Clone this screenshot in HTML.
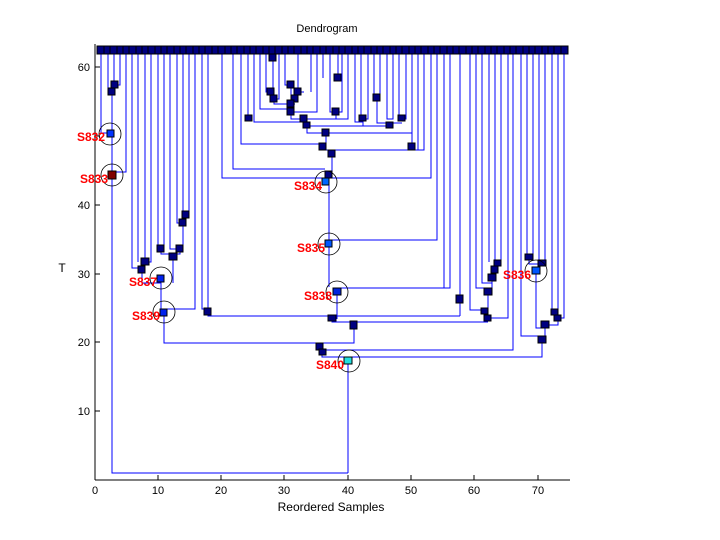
<!DOCTYPE html>
<html><head><style>
body{margin:0;background:#fff;}
svg{display:block;font-family:"Liberation Sans",sans-serif;}
</style></head><body>
<svg width="720" height="540" viewBox="0 0 720 540" xmlns="http://www.w3.org/2000/svg">
<rect width="720" height="540" fill="#fff"/>
<text x="327" y="32" font-size="11" text-anchor="middle">Dendrogram</text>
<text x="62" y="272" font-size="12" text-anchor="middle">T</text>
<text x="331" y="511" font-size="12" text-anchor="middle">Reordered Samples</text>
<g stroke="#000" stroke-width="1" shape-rendering="crispEdges">
<line x1="95" y1="44" x2="95" y2="480"/><line x1="95" y1="480" x2="570" y2="480"/>
<line x1="95" y1="67" x2="100" y2="67"/><line x1="95" y1="136" x2="100" y2="136"/><line x1="95" y1="205" x2="100" y2="205"/><line x1="95" y1="274" x2="100" y2="274"/><line x1="95" y1="342" x2="100" y2="342"/><line x1="95" y1="411" x2="100" y2="411"/>
<line x1="158" y1="480" x2="158" y2="475"/><line x1="221" y1="480" x2="221" y2="475"/><line x1="284" y1="480" x2="284" y2="475"/><line x1="348" y1="480" x2="348" y2="475"/><line x1="411" y1="480" x2="411" y2="475"/><line x1="474" y1="480" x2="474" y2="475"/><line x1="538" y1="480" x2="538" y2="475"/>
</g>
<g font-size="11" text-anchor="end">
<text x="90" y="71">60</text><text x="90" y="209">40</text><text x="90" y="278">30</text><text x="90" y="346">20</text><text x="90" y="415">10</text>
</g>
<g font-size="11" text-anchor="middle">
<text x="95" y="494">0</text><text x="158" y="494">10</text><text x="221" y="494">20</text><text x="284" y="494">30</text><text x="348" y="494">40</text><text x="411" y="494">50</text><text x="474" y="494">60</text><text x="538" y="494">70</text>
</g>
<g stroke="#0000ff" stroke-width="1" fill="none" shape-rendering="crispEdges">
<path d="M101 54V133H110"/><path d="M108 54V90H114"/><path d="M114 54V85H120V54"/><path d="M112 92V175"/><path d="M126 54V172H112"/>
<path d="M112 175V473H348"/>
<path d="M132 54V268H142"/><path d="M138 54V262"/><path d="M145 54V262H151V54"/><path d="M142 270V283H161"/>
<path d="M158 54V249H164V54"/><path d="M170 54V249H180"/><path d="M177 54V223H186"/><path d="M183 54V215H189V54"/><path d="M186 215V223"/><path d="M183 223V249"/>
<path d="M161 249V254H180V249"/><path d="M173 254V283"/>
<path d="M161 278V312"/><path d="M195 54V309H164"/>
<path d="M164 312V343H354V325"/>
<path d="M202 54V309H208V54"/><path d="M208 312V316H460"/>
<path d="M222 54V178H329"/><path d="M233 54V169H325"/><path d="M241 54V144H323"/><path d="M248 54V119"/><path d="M254 54V122H304"/>
<path d="M260 54V109H291"/><path d="M266 54V92H271"/><path d="M273 54V92"/><path d="M279 54V99H274"/><path d="M271 92V99"/><path d="M274 99V104H295"/>
<path d="M285 54V85H291V104"/><path d="M298 54V92H304"/><path d="M295 92V99"/><path d="M311 54V92"/>
<path d="M291 104V112H317V54"/><path d="M291 112V119H336"/><path d="M304 119V126H390"/><path d="M307 126V133H412"/>
<path d="M323 54V78"/><path d="M330 54V112H342V54"/><path d="M338 54V78"/><path d="M336 112V119H348V54"/>
<path d="M355 54V122H363"/><path d="M361 54V119H368V54"/><path d="M374 54V98H380V54"/><path d="M377 98V123H402"/>
<path d="M387 54V119H393V54"/><path d="M399 54V119H406V54"/><path d="M363 119V126"/>
<path d="M326 133V147"/><path d="M323 147V150H424V54"/><path d="M412 54V147"/><path d="M418 54V150"/>
<path d="M332 154V178"/><path d="M431 54V178H329"/>
<path d="M329 182V240H437V54"/>
<path d="M329 244V287"/><path d="M337 288H450V54"/><path d="M444 54V288"/><path d="M337 292V319"/>
<path d="M460 54V298"/><path d="M460 298V316"/><path d="M332 319V322H488"/><path d="M354 322V325"/>
<path d="M470 54V310H485"/><path d="M476 54V288H488"/><path d="M482 54V283H492"/><path d="M489 54V262"/><path d="M495 54V262"/><path d="M501 54V262"/>
<path d="M498 263V270"/><path d="M495 270V278"/><path d="M492 278V292"/><path d="M488 292V318"/><path d="M485 312V318H508V54"/>
<path d="M320 347V350H513V54"/><path d="M322 352V357H348"/>
<path d="M521 54V336H546"/><path d="M527 54V257H533V54"/><path d="M529 257V264H545"/><path d="M539 54V264"/><path d="M545 54V264"/>
<path d="M536 271V328H545"/><path d="M552 54V312H558"/><path d="M558 54V318H564V54"/><path d="M545 328V340"/><path d="M555 312V318"/><path d="M558 318V325H545"/>
<path d="M542 340V357H348"/><path d="M348 360V473"/>
</g>
<rect x="97" y="46" width="471" height="8" fill="#000080" stroke="#000"/>
<g stroke="#000" stroke-width="1" shape-rendering="crispEdges">
<path d="M104 46v8M110 46v8M117 46v8M123 46v8M129 46v8M136 46v8M142 46v8M148 46v8M155 46v8M161 46v8M167 46v8M174 46v8M180 46v8M186 46v8M193 46v8M199 46v8M205 46v8M212 46v8M218 46v8M225 46v8M231 46v8M237 46v8M244 46v8M250 46v8M256 46v8M263 46v8M269 46v8M275 46v8M282 46v8M288 46v8M294 46v8M301 46v8M307 46v8M313 46v8M320 46v8M326 46v8M333 46v8M339 46v8M345 46v8M352 46v8M358 46v8M364 46v8M371 46v8M377 46v8M383 46v8M390 46v8M396 46v8M402 46v8M409 46v8M415 46v8M421 46v8M428 46v8M434 46v8M440 46v8M447 46v8M453 46v8M459 46v8M466 46v8M472 46v8M478 46v8M485 46v8M491 46v8M497 46v8M504 46v8M510 46v8M516 46v8M523 46v8M529 46v8M535 46v8M542 46v8M548 46v8M554 46v8M561 46v8"/>
</g>
<g fill="#000080" stroke="#000" stroke-width="1">
<rect x="111" y="81" width="7" height="7"/><rect x="108" y="88" width="7" height="7"/>
<rect x="141" y="258" width="8" height="7"/><rect x="138" y="266" width="7" height="7"/>
<rect x="157" y="245" width="7" height="7"/><rect x="176" y="245" width="7" height="7"/><rect x="179" y="219" width="7" height="7"/><rect x="182" y="211" width="7" height="7"/><rect x="169" y="253" width="8" height="7"/>
<rect x="204" y="308" width="7" height="7"/>
<rect x="269" y="54" width="7" height="7"/><rect x="267" y="88" width="7" height="7"/><rect x="270" y="95" width="7" height="7"/><rect x="287" y="81" width="7" height="7"/><rect x="291" y="95" width="7" height="7"/><rect x="294" y="88" width="7" height="7"/>
<rect x="287" y="100" width="7" height="7"/><rect x="287" y="108" width="7" height="7"/><rect x="245" y="115" width="7" height="6"/><rect x="300" y="115" width="7" height="7"/><rect x="303" y="122" width="7" height="6"/>
<rect x="334" y="74" width="7" height="7"/><rect x="332" y="108" width="7" height="7"/><rect x="359" y="115" width="7" height="6"/><rect x="373" y="94" width="7" height="7"/><rect x="386" y="122" width="7" height="6"/><rect x="398" y="115" width="7" height="6"/>
<rect x="322" y="129" width="7" height="7"/><rect x="319" y="143" width="7" height="7"/><rect x="328" y="150" width="7" height="7"/><rect x="408" y="143" width="7" height="7"/><rect x="325" y="171" width="7" height="7"/>
<rect x="456" y="295" width="7" height="8"/><rect x="328" y="315" width="8" height="6"/><rect x="350" y="321" width="7" height="8"/>
<rect x="494" y="260" width="7" height="6"/><rect x="491" y="266" width="7" height="7"/><rect x="488" y="274" width="8" height="7"/><rect x="484" y="288" width="8" height="7"/><rect x="481" y="308" width="7" height="6"/><rect x="484" y="315" width="7" height="6"/>
<rect x="525" y="254" width="8" height="6"/><rect x="538" y="260" width="8" height="6"/><rect x="551" y="309" width="7" height="6"/><rect x="554" y="315" width="7" height="6"/><rect x="541" y="321" width="8" height="7"/><rect x="538" y="336" width="8" height="7"/>
<rect x="316" y="343" width="7" height="7"/><rect x="319" y="349" width="7" height="6"/>
</g>
<g stroke="#000" stroke-width="1">
<rect x="107" y="130" width="7" height="7" fill="#0033ff"/>
<rect x="108" y="171" width="8" height="8" fill="#800000"/>
<rect x="157" y="275" width="7" height="7" fill="#0022ee"/>
<rect x="160" y="309" width="7" height="7" fill="#0022ee"/>
<rect x="322" y="178" width="7" height="7" fill="#0066ff"/>
<rect x="325" y="240" width="7" height="7" fill="#0055ff"/>
<rect x="333" y="288" width="8" height="7" fill="#0022dd"/>
<rect x="532" y="267" width="8" height="7" fill="#0055ff"/>
<rect x="344" y="357" width="8" height="7" fill="#22e0e0"/>
</g>
<g fill="none" stroke="#000" stroke-width="0.8">
<circle cx="110" cy="134" r="11"/><circle cx="112" cy="175" r="11"/><circle cx="161" cy="278" r="11"/><circle cx="164" cy="312" r="11"/>
<circle cx="326" cy="182" r="11"/><circle cx="329" cy="244" r="11"/><circle cx="337" cy="292" r="11"/><circle cx="536" cy="271" r="11"/><circle cx="349" cy="361" r="11"/>
</g>
<g fill="#ff0000" font-size="12" font-weight="bold" text-anchor="end">
<text x="105" y="141">S832</text><text x="108" y="183">S833</text><text x="157" y="286">S837</text><text x="160" y="320">S839</text>
<text x="322" y="190">S834</text><text x="325" y="252">S835</text><text x="332" y="300">S838</text><text x="531" y="279">S836</text><text x="344" y="369">S840</text>
</g>
</svg>
</body></html>
